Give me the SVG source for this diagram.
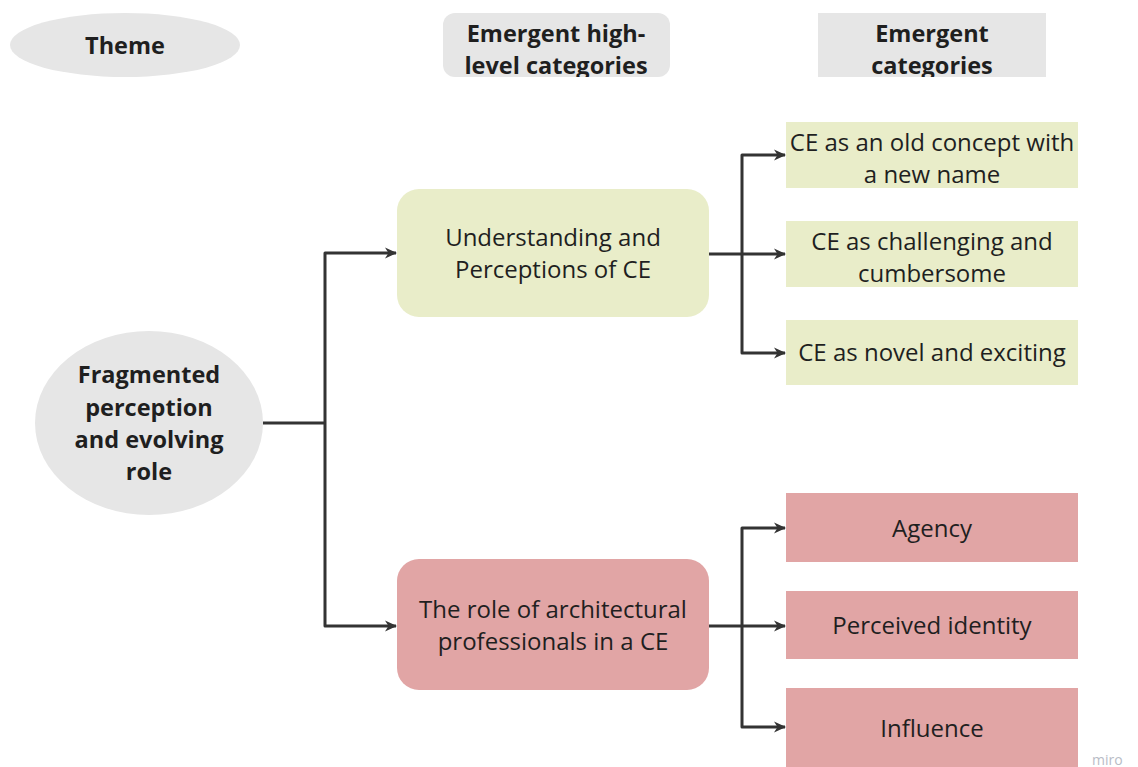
<svg xmlns="http://www.w3.org/2000/svg" width="1138" height="767" viewBox="0 0 1138 767">
<style>
.t{font-family:"Open Sans","Liberation Sans",sans-serif;font-size:24px;fill:#1f1f1f;text-anchor:middle}
.b{font-weight:bold;font-size:23.5px}
.grey{fill:#e6e6e6}
.green{fill:#e9edc9}
.red{fill:#e1a5a5}
.c{fill:none;stroke:#333;stroke-width:3;stroke-linejoin:round}
</style>
<defs>
<marker id="ah" markerWidth="14" markerHeight="14" refX="12" refY="7" orient="auto" markerUnits="userSpaceOnUse">
<path d="M1,1.5 L13,7 L1,12.5 L4.5,7 Z" fill="#333"/>
</marker>
<clipPath id="cp1"><rect x="443" y="13" width="227" height="64" rx="12"/></clipPath>
<clipPath id="cp2"><rect x="818" y="13" width="228" height="64"/></clipPath>
</defs>
<rect width="1138" height="767" fill="#fff"/>
<g id="hdr-theme"><ellipse class="grey" cx="125" cy="45" rx="115" ry="32"/><text class="t b" x="125" y="54">Theme</text></g>
<g id="hdr-high"><rect class="grey" x="443" y="13" width="227" height="64" rx="12"/><g clip-path="url(#cp1)"><text class="t b" x="556" y="42">Emergent high-</text><text class="t b" x="556" y="74">level categories</text></g></g>
<g id="hdr-cat"><rect class="grey" x="818" y="13" width="228" height="64"/><g clip-path="url(#cp2)"><text class="t b" x="932" y="42">Emergent</text><text class="t b" x="932" y="74">categories</text></g></g>
<g id="connectors">
<path class="c" d="M263,423 H325"/>
<path class="c" d="M325,423 V253 H396" marker-end="url(#ah)"/>
<path class="c" d="M325,423 V626 H396" marker-end="url(#ah)"/>
<path class="c" d="M709,254 H742"/>
<path class="c" d="M742,254 V155 H785" marker-end="url(#ah)"/>
<path class="c" d="M742,254 H785" marker-end="url(#ah)"/>
<path class="c" d="M742,254 V353 H785" marker-end="url(#ah)"/>
<path class="c" d="M709,626 H742"/>
<path class="c" d="M742,626 V528 H785" marker-end="url(#ah)"/>
<path class="c" d="M742,626 H785" marker-end="url(#ah)"/>
<path class="c" d="M742,626 V727 H785" marker-end="url(#ah)"/>
</g>
<g id="theme"><ellipse class="grey" cx="149" cy="423" rx="114" ry="92"/>
<text class="t b" x="149" y="383">Fragmented</text><text class="t b" x="149" y="416">perception</text><text class="t b" x="149" y="448">and evolving</text><text class="t b" x="149" y="480">role</text></g>
<g id="understanding"><rect class="green" x="397" y="189" width="312" height="128" rx="22"/>
<text class="t" x="553" y="246">Understanding and</text><text class="t" x="553" y="278">Perceptions of CE</text></g>
<g id="role"><rect class="red" x="397" y="559" width="312" height="131" rx="22"/>
<text class="t" x="553" y="618">The role of architectural</text><text class="t" x="553" y="650">professionals in a CE</text></g>
<g id="old"><rect class="green" x="786" y="122" width="292" height="66"/>
<text class="t" x="932" y="151">CE as an old concept with</text><text class="t" x="932" y="183">a new name</text></g>
<g id="challenging"><rect class="green" x="786" y="221" width="292" height="66"/>
<text class="t" x="932" y="250">CE as challenging and</text><text class="t" x="932" y="282">cumbersome</text></g>
<g id="novel"><rect class="green" x="786" y="320" width="292" height="65"/>
<text class="t" x="932" y="361">CE as novel and exciting</text></g>
<g id="agency"><rect class="red" x="786" y="493" width="292" height="69"/>
<text class="t" x="932" y="537">Agency</text></g>
<g id="identity"><rect class="red" x="786" y="591" width="292" height="68"/>
<text class="t" x="932" y="634">Perceived identity</text></g>
<g id="influence"><rect class="red" x="786" y="688" width="292" height="79"/>
<text class="t" x="932" y="737">Influence</text></g>
<text x="1092" y="765" style="font-family:'Open Sans',sans-serif;font-size:14px;fill:#b8bcc6">miro</text>
</svg>
